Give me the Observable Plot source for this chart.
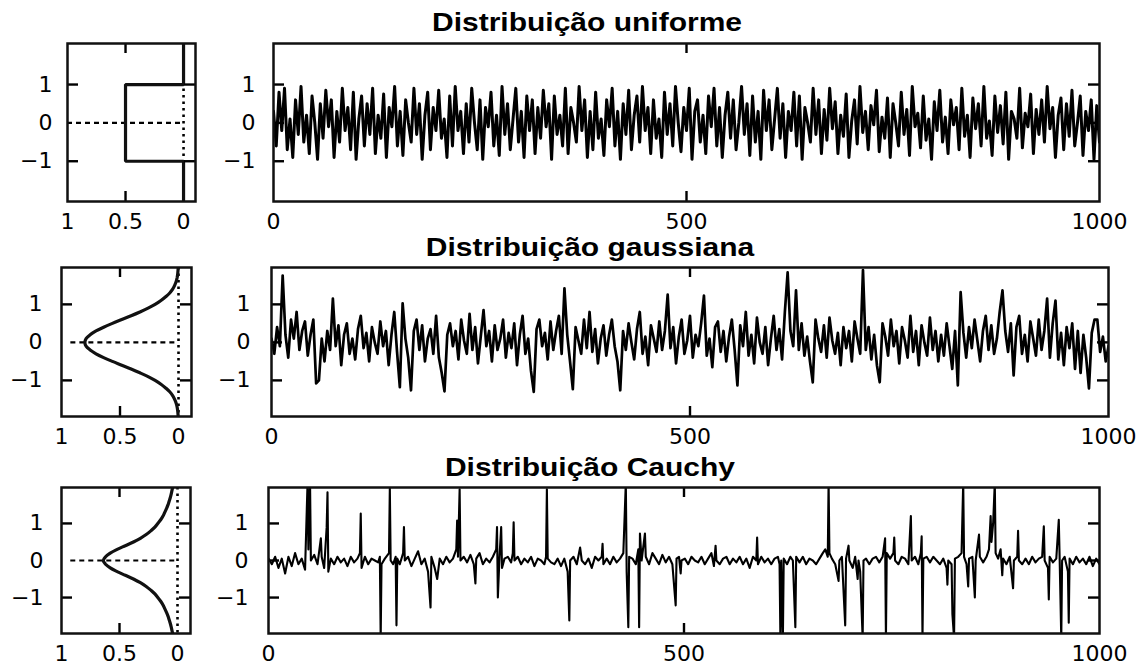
<!DOCTYPE html>
<html><head><meta charset="utf-8">
<script src="https://cdn.jsdelivr.net/npm/d3@7"></script>
<script src="https://cdn.jsdelivr.net/npm/@observablehq/plot@0.6"></script>
<style>
html,body{margin:0;padding:0;background:#fff;}
#root{position:relative;width:1148px;height:666px;overflow:hidden;background:#fff;}
.title{position:absolute;font-family:"Liberation Sans",Arial,sans-serif;font-weight:bold;font-size:25px;line-height:25px;white-space:nowrap;transform:translateX(-50%) scaleX(1.2);color:#000;}
</style></head><body><div id="root"></div>
<script>
// ---------- text ----------
const titles = ["Distribuição uniforme", "Distribuição gaussiana", "Distribuição Cauchy"];
const densTicks = [1, 0.5, 0];
const densTickLabels = ["1", "0.5", "0"];
const timeTicks = [0, 500, 1000];
const timeTickLabels = ["0", "500", "1000"];
const valueTicks = [-1, 0, 1];
const valueTickLabels = ["−1", "0", "1"];

// ---------- density curves (value y, density d) ----------
const uniformDensY = [-2.1, -1, -1, 1, 1, 2.1];
const uniformDensD = [0, 0, 0.5, 0.5, 0, 0];
const densGridY = [-2,-1.9,-1.8,-1.7,-1.6,-1.5,-1.4,-1.3,-1.2,-1.1,-1,-0.9,-0.8,-0.7,-0.6,-0.5,-0.4,-0.3,-0.2,-0.1,0,0.1,0.2,0.3,0.4,0.5,0.6,0.7,0.8,0.9,1,1.1,1.2,1.3,1.4,1.5,1.6,1.7,1.8,1.9,2];
const gaussDensD = [0.002,0.004,0.007,0.012,0.02,0.033,0.05,0.075,0.11,0.15,0.2,0.26,0.33,0.405,0.485,0.565,0.64,0.705,0.755,0.79,0.8,0.79,0.755,0.705,0.64,0.565,0.485,0.405,0.33,0.26,0.2,0.15,0.11,0.075,0.05,0.033,0.02,0.012,0.007,0.004,0.002];
const cauchyDensD = [0.04,0.047,0.054,0.062,0.072,0.082,0.095,0.11,0.125,0.145,0.17,0.195,0.23,0.27,0.32,0.38,0.45,0.52,0.58,0.62,0.64,0.62,0.58,0.52,0.45,0.38,0.32,0.27,0.23,0.195,0.17,0.145,0.125,0.11,0.095,0.082,0.072,0.062,0.054,0.047,0.04];

// ---------- time series (301 evenly spaced samples over 0..1000) ----------
const uniformSeries = [
0.3,-0.6,0.8,-0.2,0.9,-0.7,0.1,-0.9,0.6,-0.3,0.95,-0.5,0.2,-0.8,0.7,0.0,-0.95,0.5,-0.4,0.85,
-0.1,0.6,-0.9,0.3,-0.5,0.9,-0.2,0.4,-0.7,0.8,-0.95,0.1,0.7,-0.6,0.5,-0.3,0.9,-0.8,0.2,-0.4,
0.75,-0.9,0.4,-0.1,0.95,-0.6,0.3,-0.85,0.6,0.0,-0.5,0.9,-0.3,0.5,-0.95,0.2,0.8,-0.7,0.4,-0.2,
0.85,-0.4,0.1,-0.9,0.7,-0.6,0.95,-0.2,0.3,-0.8,0.5,-0.5,0.9,0.0,-0.7,0.6,-0.95,0.4,-0.1,0.8,
-0.6,0.2,-0.85,0.95,-0.3,0.5,-0.7,0.1,0.9,-0.5,0.3,-0.9,0.7,-0.2,0.6,-0.8,0.4,-0.4,0.85,-0.1,
0.5,-0.95,0.7,-0.3,0.2,-0.6,0.9,-0.8,0.4,0.0,-0.5,0.95,-0.2,0.6,-0.9,0.3,-0.7,0.8,-0.4,0.1,
-0.85,0.6,-0.1,0.9,-0.6,0.3,-0.95,0.5,-0.3,0.85,-0.7,0.2,0.7,-0.5,0.95,-0.2,0.4,-0.8,0.6,-0.4,
0.1,-0.9,0.8,-0.3,0.5,-0.6,0.95,0.0,-0.75,0.4,-0.2,0.9,-0.95,0.3,0.6,-0.5,0.2,-0.8,0.7,-0.1,
0.9,-0.6,0.4,-0.9,0.2,0.8,-0.4,0.6,-0.7,0.0,0.95,-0.3,0.5,-0.85,0.7,-0.5,0.3,-0.95,0.85,-0.2,
0.6,-0.7,0.1,0.9,-0.4,0.5,-0.9,0.3,-0.2,0.8,-0.6,0.7,-0.95,0.4,0.0,-0.5,0.9,-0.3,0.6,-0.8,
0.35,-0.45,0.9,-0.15,0.55,-0.8,0.2,-0.35,0.75,-0.9,0.05,0.6,-0.55,0.95,-0.25,0.3,-0.7,0.45,-0.05,0.85,
-0.75,0.15,-0.4,0.65,-0.9,0.5,0.0,-0.6,0.8,-0.3,0.35,-0.85,0.95,-0.1,0.25,-0.65,0.7,-0.45,0.1,-0.95,
0.55,-0.2,0.85,-0.5,0.15,-0.8,0.6,-0.05,0.4,-0.7,0.9,-0.35,0.2,-0.9,0.65,-0.15,0.5,-0.6,0.95,-0.4,
0.05,-0.85,0.7,-0.25,0.45,-0.55,0.8,-0.95,0.3,0.1,-0.4,0.9,-0.65,0.25,-0.1,0.75,-0.8,0.35,-0.3,0.6,
-0.5,0.95,-0.15,0.4,-0.9,0.2,0.65,-0.7,0.5,-0.35,0.85,-0.6,0.0,0.7,-0.85,0.3,-0.2,0.6,-0.95,0.45,
-0.5];

const gaussianSeries = [
0.1,-0.3,0.4,-0.1,1.76,0.2,-0.4,0.6,0.1,0.8,-0.2,0.3,0.55,-0.35,0.2,0.6,-1.08,-1.0,0.1,-0.5,
0.3,-0.2,1.15,-0.1,0.45,-0.6,0.2,0.5,-0.3,0.1,-0.45,0.35,0.7,-0.15,0.25,-0.5,0.4,0.0,-0.3,0.55,
-0.1,0.3,-0.6,0.2,0.8,-0.25,-1.18,1.03,0.1,-0.4,-1.26,0.3,0.6,-0.2,0.45,-0.5,0.1,0.35,-0.3,0.7,
-0.4,-0.8,-1.29,0.2,0.5,-0.1,0.3,-0.45,0.6,0.05,-0.3,0.75,-0.2,0.4,-0.55,0.15,0.85,-0.1,0.3,-0.5,
0.45,-0.2,0.1,0.6,-0.4,0.25,-0.15,0.5,-0.6,0.2,0.7,-0.3,0.1,-0.75,-1.3,0.35,0.6,-0.1,0.25,-0.45,
0.55,-0.2,0.3,0.7,-0.3,1.42,0.2,-0.5,-1.23,0.4,0.05,-0.3,0.6,-0.15,0.8,-0.25,0.35,-0.55,0.1,0.45,
-0.35,0.2,0.6,-0.1,-0.5,-1.26,0.3,-0.2,0.5,0.0,-0.45,0.35,0.8,-0.3,0.15,-0.6,0.45,0.1,-0.25,0.55,
-0.2,0.3,1.26,-0.15,0.4,-0.55,0.15,0.6,-0.3,0.05,0.7,-0.4,0.2,-0.1,0.5,1.23,-0.35,0.1,-0.65,0.4,
0.55,-0.25,0.3,-0.5,0.15,0.6,-0.2,-1.13,0.45,-0.1,0.8,-0.35,0.2,-0.55,0.65,0.0,-0.3,0.4,-0.6,0.1,
0.7,-0.2,0.35,-0.45,0.8,1.84,0.3,-0.1,1.37,-0.2,0.5,-0.35,0.15,-0.5,-1.05,0.6,0.1,-0.25,0.45,-0.4,
0.65,0.05,-0.3,0.25,-0.6,0.4,-0.15,0.3,-0.5,0.55,0.1,-0.3,1.9,-0.2,0.4,-0.45,0.2,-0.6,-1.05,0.5,
0.15,-0.35,0.6,-0.1,0.3,-0.55,0.4,0.05,-0.4,0.7,-0.25,0.3,-0.6,0.45,0.0,-0.35,0.65,-0.2,0.3,-0.5,
0.2,-0.35,0.5,-0.1,-0.7,0.3,-1.13,1.32,0.25,-0.4,0.4,-0.15,0.6,0.05,-0.5,0.3,0.7,-0.2,0.45,-0.3,
0.1,0.8,1.37,0.3,-0.25,0.5,-0.87,0.4,0.7,-0.3,0.2,-0.5,0.55,0.1,-0.35,0.6,-0.2,0.3,1.15,-0.4,
0.5,1.1,-0.45,0.25,-0.6,0.4,-0.15,0.5,-0.7,0.3,-0.8,0.2,-0.4,-1.21,0.25,0.6,0.6,-0.25,0.15,-0.5,
-0.1];

// Cauchy: [time, value] (spikes at their own times)
const cauchyPoints = [
[0,0.05],[4,-0.1],[8,0.1],[12,-0.2],[16,0.05],[20,-0.35],[24,0.1],[28,-0.15],[32,0.2],[36,-0.1],[40,0.05],[44,-0.25],[47,2.1],[48,0.3],[49,1.54],[50,2.1],[51,0.0],[55,0.15],[59,-0.1],[63,0.6],[64,0.1],[67,-0.2],[70,0.9],[71,1.84],[72,-0.3],[75,0.05],[79,-0.1],[83,0.1],[87,-0.05],[91,0.05],[95,-0.15],[99,0.1],[103,-0.05],[107,0.05],[110,0.2],[111,1.27],[112,-0.2],[116,0.1],[120,-0.1],[124,0.05],[128,0.0],[132,-0.05],[134,0.1],[135,-2.1],[136,-0.1],[140,0.05],[145,0.2],[146,1.95],[147,0.0],[150,-0.1],[153,0.1],[154,-1.75],[155,0.05],[158,-0.1],[162,0.2],[163,0.9],[164,0.0],[168,0.1],[172,-0.15],[176,0.05],[180,0.25],[184,-0.1],[188,0.05],[192,-0.3],[195,-1.27],[196,0.1],[200,-0.2],[203,-0.5],[206,0.05],[210,-0.1],[214,0.1],[218,-0.05],[222,0.05],[226,0.3],[227,1.08],[228,0.1],[230,1.92],[231,0.0],[235,0.1],[239,-0.05],[243,0.15],[247,-0.1],[249,-0.62],[250,0.05],[254,0.2],[258,-0.1],[262,0.05],[266,-0.05],[270,0.1],[274,0.3],[275,0.9],[276,-1.0],[278,0.1],[280,0.9],[281,-0.2],[284,0.05],[288,0.1],[292,-0.05],[294,0.2],[295,1.03],[296,0.0],[300,0.1],[304,-0.1],[308,0.05],[312,-0.05],[316,0.1],[320,-0.15],[324,0.05],[328,0.0],[332,-0.1],[334,0.1],[335,1.92],[336,0.05],[340,-0.05],[344,-0.1],[348,0.05],[352,-0.15],[356,0.05],[360,-0.3],[362,-1.62],[363,0.0],[367,0.1],[371,-0.1],[375,0.35],[377,0.0],[381,-0.1],[385,0.05],[389,-0.2],[393,0.1],[397,0.0],[401,0.1],[402,0.45],[403,-0.1],[407,0.05],[411,-0.1],[415,0.1],[419,-0.05],[423,0.05],[427,0.2],[430,2.1],[431,-0.3],[433,-1.8],[434,0.1],[438,0.05],[442,-0.1],[445,0.3],[446,-1.8],[447,0.73],[449,0.0],[453,0.73],[454,0.1],[458,-0.1],[462,0.2],[466,0.05],[470,-0.1],[474,0.15],[478,-0.05],[482,0.1],[486,-0.1],[490,-1.21],[491,0.05],[494,0.1],[496,-0.35],[497,0.0],[501,0.05],[505,-0.1],[509,0.1],[513,0.0],[517,-0.05],[521,0.1],[525,-0.1],[529,0.05],[533,0.2],[536,-0.15],[538,0.4],[539,0.0],[543,-0.1],[547,0.05],[551,0.1],[555,-0.1],[559,0.05],[563,-0.05],[567,0.1],[571,-0.1],[575,0.05],[579,-0.2],[583,0.1],[587,0.0],[588,0.62],[589,-0.1],[593,0.1],[597,-0.05],[601,0.05],[605,-0.1],[609,0.05],[613,0.1],[615,-0.1],[616,-2.1],[617,0.0],[619,-2.1],[620,0.05],[624,-0.1],[628,0.1],[631,0.0],[634,-1.8],[635,0.1],[639,-0.05],[643,0.1],[647,-0.1],[651,0.05],[655,0.0],[659,-0.1],[663,0.05],[667,0.2],[670,0.3],[673,0.1],[674,2.1],[675,0.2],[678,0.05],[682,-0.1],[686,-0.55],[687,0.0],[690,0.1],[694,-1.75],[695,0.05],[698,0.4],[699,0.0],[703,-0.2],[706,0.1],[709,-0.5],[710,0.0],[712,-0.3],[715,-2.1],[716,0.0],[719,0.05],[723,-0.1],[727,0.05],[731,0.1],[735,-0.05],[739,0.1],[742,0.6],[743,-2.1],[744,0.2],[748,0.05],[752,0.2],[753,0.62],[754,0.0],[758,-0.1],[762,0.1],[766,0.05],[770,-0.1],[773,1.2],[774,0.0],[778,0.1],[782,-0.1],[785,0.2],[786,0.65],[787,-2.1],[788,0.05],[792,0.1],[796,-0.05],[800,0.1],[804,0.0],[808,-0.1],[812,0.05],[816,-0.2],[817,-0.65],[818,0.0],[822,-0.1],[823,-1.45],[825,-2.1],[826,0.05],[830,0.1],[834,0.2],[836,2.1],[837,0.1],[840,-0.1],[842,-0.7],[843,0.05],[847,0.1],[850,-1.0],[851,0.0],[855,0.7],[856,0.1],[860,-0.05],[864,0.1],[867,0.3],[869,1.2],[870,0.5],[872,1.0],[874,2.1],[875,0.2],[878,0.05],[881,0.3],[883,-0.4],[884,0.05],[888,-0.1],[892,0.1],[896,-0.75],[897,0.0],[901,0.1],[902,0.8],[903,0.0],[907,-0.1],[911,0.05],[915,-0.1],[919,0.1],[923,-0.05],[927,0.05],[931,0.1],[933,0.92],[934,0.0],[938,-0.2],[939,-1.05],[940,0.1],[944,-0.05],[948,0.05],[951,1.1],[952,0.1],[954,-2.1],[955,0.0],[958,0.1],[962,-0.3],[963,-1.68],[964,0.05],[968,-0.1],[972,0.1],[976,-0.05],[980,0.05],[984,-0.1],[988,0.1],[992,-0.15],[996,0.05],[1000,-0.1]];

// ---------- build tables ----------
const toSeries = arr => arr.map((v, i) => ({t: i * 1000 / (arr.length - 1), v}));
const uniformDens = uniformDensY.map((y, i) => ({y, d: uniformDensD[i]}));
const gaussDens = densGridY.map((y, i) => ({y, d: gaussDensD[i]}));
const cauchyDens = densGridY.map((y, i) => ({y, d: cauchyDensD[i]}));
const uniformTS = toSeries(uniformSeries);
const gaussianTS = toSeries(gaussianSeries);
const cauchyTS = cauchyPoints.map(([t, v]) => ({t, v}));

const root = document.getElementById("root");
const xLabelMapDens = new Map(densTicks.map((d, i) => [d, densTickLabels[i]]));
const xLabelMapTime = new Map(timeTicks.map((d, i) => [d, timeTickLabels[i]]));
const yLabelMap = new Map(valueTicks.map((d, i) => [d, valueTickLabels[i]]));

function panel({fx0, fx1, fy0, fy1, xDomain, yDomain, marks, xTicks, xMap, yPad, tbTicks, leftTicks, rightTicks}) {
  const mL = 70, mR = 45, mT = 6, mB = 45;
  const w = fx1 - fx0, h = fy1 - fy0;
  const svg = Plot.plot({
    width: w + mL + mR, height: h + mT + mB,
    marginLeft: mL, marginRight: mR, marginTop: mT, marginBottom: mB,
    x: {domain: xDomain, axis: null},
    y: {domain: yDomain, axis: null},
    style: {background: "transparent", fontFamily: "'DejaVu Sans', sans-serif", fontSize: "22px", overflow: "visible", color: "#000"},
    marks: [
      ...marks,
      Plot.tickY(leftTicks, {y: d => d, insetRight: w - 11, strokeWidth: 2.4}),
      Plot.tickY(rightTicks, {y: d => d, insetLeft: w - 11, strokeWidth: 2.4}),
      Plot.tickX(tbTicks, {x: d => d, insetBottom: h - 10, strokeWidth: 2.4}),
      Plot.tickX(tbTicks, {x: d => d, insetTop: h - 10, strokeWidth: 2.4}),
      Plot.frame({strokeWidth: 2.5, stroke: "#111"}),
      Plot.axisX(xTicks, {anchor: "bottom", label: null, tickSize: 0, tickPadding: 12, tickFormat: d => xMap.get(d), fontSize: 22}),
      Plot.axisY(valueTicks, {anchor: "left", label: null, tickSize: 0, tickPadding: yPad, tickFormat: d => yLabelMap.get(d), fontSize: 22})
    ]
  });
  svg.style.position = "absolute";
  svg.style.left = (fx0 - mL) + "px";
  svg.style.top = (fy0 - mT) + "px";
  root.appendChild(svg);
}

function densMarks(data, dashX1, curve) {
  return [
    Plot.ruleX([0], {strokeDasharray: "2.5,4", strokeWidth: 2.6}),
    Plot.ruleY([{y: 0, x1: dashX1, x2: 0}], {y: "y", x1: "x1", x2: "x2", strokeDasharray: "5,4", strokeWidth: 2.2}),
    Plot.line(data, {x: "d", y: "y", curve, strokeWidth: 3.2, stroke: "#111", strokeLinejoin: "miter", clip: true})
  ];
}
function tsMarks(data, sw) {
  return [Plot.line(data, {x: "t", y: "v", stroke: "#000", strokeWidth: sw, strokeLinejoin: "round", clip: true})];
}

const rows = [
  {fy0: 43, fy1: 201, yDomain: [-2.05, 2.07], left: [67, 195, [1, -0.103]], right: [273, 1099], pads: [15, 18],
   dens: uniformDens, curve: "linear", dashX1: 1, ts: uniformTS, sw: 3, titleX: 587, titleTop: 10},
  {fy0: 267, fy1: 416, yDomain: [-1.95, 1.97], left: [61, 191, [1, -0.111]], right: [271, 1108], pads: [19, 21],
   dens: gaussDens, curve: "catmull-rom", dashX1: 0.92, ts: gaussianTS, sw: 2.7, titleX: 590, titleTop: 235},
  {fy0: 487, fy1: 633, yDomain: [-1.97, 1.97], left: [61, 190, [1, -0.112]], right: [268, 1099], pads: [18, 20],
   dens: cauchyDens, curve: "catmull-rom", dashX1: 0.92, ts: cauchyTS, sw: 2.1, titleX: 590, titleTop: 455}
];

rows.forEach((r, i) => {
  const t = document.createElement("div");
  t.className = "title";
  t.textContent = titles[i];
  t.style.left = r.titleX + "px";
  t.style.top = r.titleTop + "px";
  root.appendChild(t);
  panel({fx0: r.left[0], fx1: r.left[1], fy0: r.fy0, fy1: r.fy1, xDomain: r.left[2], yDomain: r.yDomain,
    marks: densMarks(r.dens, r.dashX1, r.curve), xTicks: densTicks, xMap: xLabelMapDens, yPad: r.pads[0],
    tbTicks: [0.5], leftTicks: [-1, 1], rightTicks: [-1, 1]});
  panel({fx0: r.right[0], fx1: r.right[1], fy0: r.fy0, fy1: r.fy1, xDomain: [0, 1000], yDomain: r.yDomain,
    marks: tsMarks(r.ts, r.sw), xTicks: timeTicks, xMap: xLabelMapTime, yPad: r.pads[1],
    tbTicks: [500], leftTicks: [-1, 0, 1], rightTicks: [-1, 0, 1]});
});
</script></body></html>
